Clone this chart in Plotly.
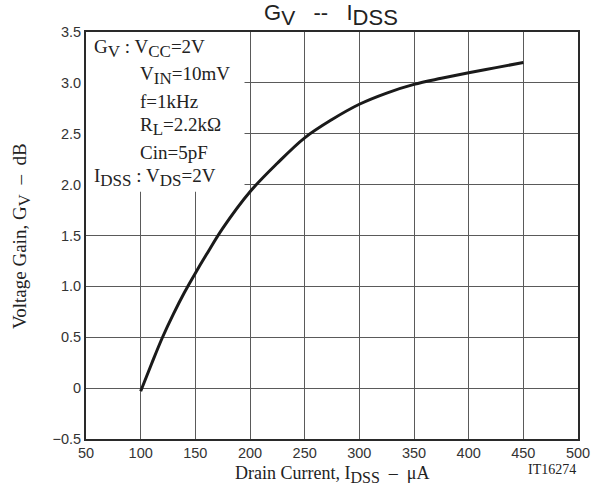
import plotly.graph_objects as go

# Data
idss_uA = [100, 110, 120, 130, 140, 150, 160, 175, 200, 225, 250, 275, 300, 325, 350, 375, 400, 425, 450]
gain_dB = [-0.03, 0.24, 0.50, 0.73, 0.94, 1.13, 1.31, 1.57, 1.93, 2.21, 2.46, 2.64, 2.79, 2.90, 2.985, 3.045, 3.10, 3.15, 3.20]

x_ticks = [50, 100, 150, 200, 250, 300, 350, 400, 450, 500]
y_ticks = [-0.5, 0, 0.5, 1.0, 1.5, 2.0, 2.5, 3.0, 3.5]
y_tick_labels = ["\u22120.5", "0", "0.5", "1.0", "1.5", "2.0", "2.5", "3.0", "3.5"]

W, H = 601, 495
L, R, T, B = 86, 23, 32, 56
PW, PH = W - L - R, H - T - B
PLOT_LEFT, PLOT_BOTTOM = L, H - B


def px(xp):
    return (xp - PLOT_LEFT) / PW


def py(yp):
    return (PLOT_BOTTOM - yp) / PH


SERIF = "Liberation Serif, Times New Roman, serif"
SANS = "Liberation Sans, Arial, sans-serif"
NB = "\u00a0"


def sub(t, size):
    return f"<sub><span style='font-size:{size}px'>{t}</span></sub>"


fig = go.Figure()
fig.add_trace(go.Scatter(x=idss_uA, y=gain_dB, mode="lines",
                         line=dict(color="#1a1a1a", width=3, shape="spline", smoothing=1.0),
                         hoverinfo="skip", showlegend=False))

fig.update_layout(
    width=W, height=H,
    margin=dict(l=L, r=R, t=T, b=B),
    paper_bgcolor="white", plot_bgcolor="white",
    showlegend=False,
    xaxis=dict(range=[50, 500], tickvals=x_ticks, ticktext=[str(v) for v in x_ticks],
               showgrid=True, gridcolor="#5a5a5a", gridwidth=1,
               showline=True, linecolor="#2a2a2a", linewidth=2, mirror=True,
               ticks="", zeroline=False, automargin=False,
               tickfont=dict(family=SANS, size=14.5, color="#333333")),
    yaxis=dict(range=[-0.5, 3.5], tickvals=y_ticks, ticktext=y_tick_labels,
               showgrid=True, gridcolor="#5a5a5a", gridwidth=1,
               showline=True, linecolor="#2a2a2a", linewidth=2, mirror=True,
               ticks="", zeroline=False, automargin=False,
               tickfont=dict(family=SANS, size=14.5, color="#333333")),
)

# white box behind the conditions text (covers grid)
fig.add_shape(type="rect", xref="x", yref="y", x0=50, x1=195, y0=1.93, y1=3.5,
              fillcolor="white", line=dict(width=0), layer="between")

ann = []
ann.append(dict(text="G" + sub("V", 21) + NB * 3 + "--" + NB * 3 + "I" + sub("DSS", 22),
                x=px(331), y=py(15), xref="paper", yref="paper",
                xanchor="center", yanchor="middle", showarrow=False,
                font=dict(family=SANS, size=22, color="#222222")))

S = 19
SS = 17
cond = [
    ("G" + sub("V", SS) + " : V" + sub("CC", SS) + "=2V", 92, 49),
    ("V" + sub("IN", SS) + "=10mV", 138, 75),
    ("f=1kHz", 138, 101),
    ("R" + sub("L", SS) + "=2.2k\u03a9", 138, 126),
    ("Cin=5pF", 138, 152),
    ("I" + sub("DSS", SS) + " : V" + sub("DS", SS) + "=2V", 92, 177),
]
for t, xp, yp in cond:
    ann.append(dict(text=t, x=px(xp), y=py(yp), xref="paper", yref="paper",
                    xanchor="left", yanchor="middle", showarrow=False,
                    font=dict(family=SERIF, size=S, color="#222222")))

ann.append(dict(text="Voltage Gain, G" + sub("V", 17) + "  \u2013  dB", x=px(22), y=py(236),
                xref="paper", yref="paper",
                textangle=-90, xanchor="center", yanchor="middle", showarrow=False,
                font=dict(family=SERIF, size=19, color="#222222")))
ann.append(dict(text="Drain Current, I" + sub("DSS", 16) + "  \u2013  \u03bcA", x=px(332), y=py(474),
                xref="paper", yref="paper",
                xanchor="center", yanchor="middle", showarrow=False,
                font=dict(family=SERIF, size=18, color="#222222")))
ann.append(dict(text="IT16274", x=px(578), y=py(470), xref="paper", yref="paper",
                xanchor="right", yanchor="middle", showarrow=False,
                font=dict(family=SERIF, size=14, color="#222222")))

fig.update_layout(annotations=ann)
fig.write_html("out.html", config={"displayModeBar": False},
               post_script="document.body.style.margin='0px';")
